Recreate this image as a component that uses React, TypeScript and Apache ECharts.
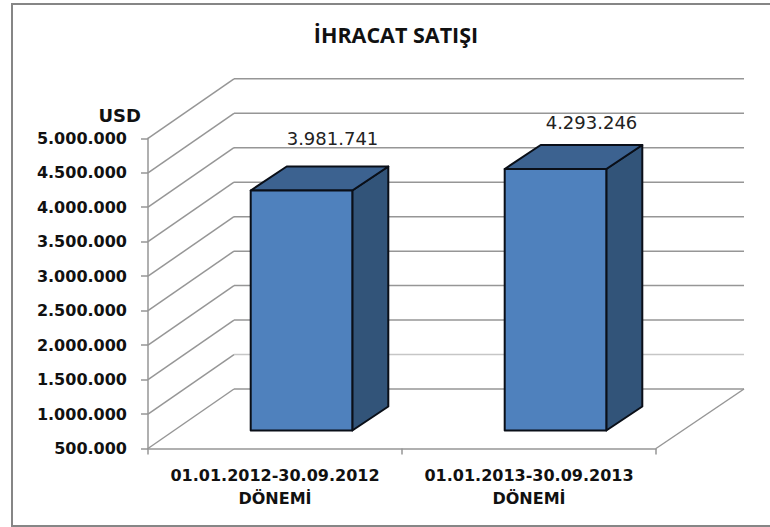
import React, { useEffect, useRef } from "react";
import * as echarts from "echarts";

const chartTitle = "İHRACAT SATIŞI";
const axisName = "USD";
const categories = ["01.01.2012-30.09.2012\nDÖNEMİ", "01.01.2013-30.09.2013\nDÖNEMİ"];
const salesValues = [3981741, 4293246];
const gridValues = [500000, 1000000, 1500000, 2000000, 2500000, 3000000, 3500000, 4000000, 4500000, 5000000];

const WALL_DX = 86;
const WALL_DY = -59.5;
const WALL_RIGHT_DX = 88;
const BAR_OFFSET_DX = 26.5;
const BAR_OFFSET_DY = -18;
const BAR_DEPTH_DX = 36;
const BAR_DEPTH_DY = -24;
const LABEL_SHIFT = [[31, -28], [36, -23]];
const GRAY = "#969696";
const EDGE = "#0a0f18";

const formatDots = (v: number) => String(v).replace(/\B(?=(\d{3})+(?!\d))/g, ".");

const wallItem = (params: any, api: any) => {
  const value = api.value(1);
  const y = api.coord([0, value])[1];
  const cs = params.coordSys;
  const x0 = cs.x;
  const x1 = cs.x + cs.width;
  const children: any[] = [
    {
      type: "line",
      shape: { x1: x0, y1: y, x2: x0 + WALL_DX, y2: y + WALL_DY },
      style: { stroke: GRAY, lineWidth: 1.5 },
    },
    {
      type: "line",
      shape: { x1: x0 + WALL_DX, y1: y + WALL_DY, x2: x1 + WALL_RIGHT_DX, y2: y + WALL_DY },
      style: { stroke: value === 1000000 ? "#c6c6c6" : GRAY, lineWidth: 1.5 },
    },
  ];
  if (value === gridValues[0]) {
    children.push({
      type: "line",
      shape: { x1, y1: y, x2: x1 + WALL_RIGHT_DX, y2: y + WALL_DY },
      style: { stroke: GRAY, lineWidth: 1.5 },
    });
  }
  return { type: "group", children };
};

const barItem = (params: any, api: any) => {
  const idx = api.value(0);
  const value = api.value(1);
  const top = api.coord([idx, value]);
  const base = api.coord([idx, gridValues[0]]);
  const band = api.size([1, 0])[0];
  const w = band * 0.4;
  const xl = top[0] + BAR_OFFSET_DX - w / 2;
  const xr = xl + w;
  const yt = top[1] + BAR_OFFSET_DY;
  const yb = base[1] + BAR_OFFSET_DY;
  const dx = BAR_DEPTH_DX;
  const dy = BAR_DEPTH_DY;
  const edge = { stroke: EDGE, lineWidth: 2, lineJoin: "round" };
  const shift = LABEL_SHIFT[params.dataIndex];
  return {
    type: "group",
    children: [
      {
        type: "polygon",
        shape: { points: [[xr, yt], [xr + dx, yt + dy], [xr + dx, yb + dy], [xr, yb]] },
        style: { fill: "#325479", ...edge },
      },
      {
        type: "polygon",
        shape: { points: [[xl, yt], [xl + dx, yt + dy], [xr + dx, yt + dy], [xr, yt]] },
        style: { fill: "#3c6290", ...edge },
      },
      {
        type: "rect",
        shape: { x: xl, y: yt, width: w, height: yb - yt },
        style: { fill: "#4f81bd", ...edge },
      },
      {
        type: "text",
        style: {
          text: formatDots(value),
          x: (xl + xr) / 2 + shift[0],
          y: yt + dy + shift[1],
          align: "center",
          verticalAlign: "middle",
          fontFamily: "DejaVu Sans",
          fontSize: 18,
          fill: "#222222",
        },
      },
    ],
  };
};

export default function App() {
  const ref = useRef<HTMLDivElement>(null);
  useEffect(() => {
    document.body.style.margin = "0";
    const chart = echarts.init(ref.current!, null, { renderer: "svg" });
    chart.setOption({
      animation: false,
      backgroundColor: "#ffffff",
      title: {
        text: chartTitle,
        left: 391,
        top: 18,
        textAlign: "center",
        textStyle: { fontFamily: "Open Sans", fontWeight: "bold", fontSize: 21.5, color: "#111111" },
      },
      graphic: [
        {
          type: "polyline",
          silent: true,
          shape: { points: [[771, 4], [12, 4], [12, 526], [771, 526]] },
          style: { fill: "none", stroke: "#868686", lineWidth: 2 },
        },
      ],
      grid: { left: 148, right: 114, top: 138.3, bottom: 78.5, containLabel: false },
      xAxis: {
        type: "category",
        data: categories,
        boundaryGap: true,
        axisLine: { lineStyle: { color: GRAY, width: 1.5 } },
        axisTick: { show: true, length: 6, lineStyle: { color: GRAY, width: 1.5 } },
        axisLabel: {
          interval: 0,
          margin: 15,
          lineHeight: 23,
          fontFamily: "DejaVu Sans",
          fontWeight: "bold",
          fontSize: 16,
          color: "#111111",
        },
      },
      yAxis: {
        type: "value",
        min: 500000,
        max: 5000000,
        interval: 500000,
        name: axisName,
        nameLocation: "end",
        nameGap: 14,
        nameTextStyle: {
          align: "right",
          padding: [0, 7, 0, 0],
          fontFamily: "DejaVu Sans",
          fontWeight: "bold",
          fontSize: 18,
          color: "#111111",
        },
        splitLine: { show: false },
        axisLine: { show: true, lineStyle: { color: GRAY, width: 1.5 } },
        axisTick: { show: true, length: 7, lineStyle: { color: GRAY, width: 1.5 } },
        axisLabel: {
          margin: 21,
          formatter: (v: number) => formatDots(v),
          fontFamily: "DejaVu Sans",
          fontWeight: "bold",
          fontSize: 16,
          color: "#111111",
        },
      },
      series: [
        {
          type: "custom",
          z: 1,
          silent: true,
          renderItem: wallItem,
          data: gridValues.map((v) => [0, v]),
        },
        {
          type: "custom",
          z: 2,
          silent: true,
          renderItem: barItem,
          data: salesValues.map((v, i) => [i, v]),
        },
      ],
    });
    return () => chart.dispose();
  }, []);
  return <div ref={ref} style={{ position: "absolute", left: 0, top: 0, width: 770, height: 527 }} />;
}
